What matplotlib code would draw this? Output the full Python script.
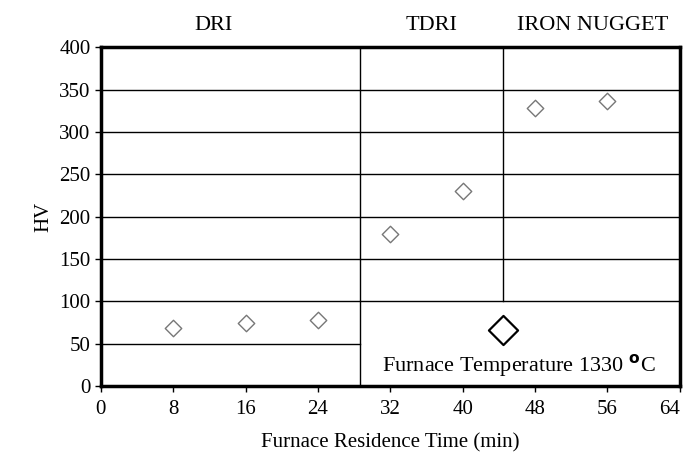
import matplotlib
matplotlib.use("Agg")
from matplotlib import pyplot as plt

# residence time (min) and hardness HV
time_min = [8, 16, 24, 32, 40, 48, 56]
hv = [68, 75, 78, 179, 230, 328, 336]
x_ticks = [0, 8, 16, 24, 32, 40, 48, 56, 64]
y_ticks = [0, 50, 100, 150, 200, 250, 300, 350, 400]
regions = ["DRI", "TDRI", "IRON NUGGET"]
region_x = [12.4, 36.6, 54.4]

plt.rcParams['font.family'] = ['Liberation Serif', 'DejaVu Serif']

fig = plt.figure(figsize=(6.86, 4.58), dpi=100)
ax = fig.add_axes([0.147, 0.157, 0.844, 0.740])

ax.set_xlim(0, 64)
ax.set_ylim(0, 400)

# horizontal grid lines
for y in [100, 150, 200, 250, 300, 350]:
    ax.plot([0, 64], [y, y], color="black", lw=1.0, zorder=1)
ax.plot([0, 28.6], [50, 50], color="black", lw=1.0, zorder=1)
# region dividers
ax.plot([28.6, 28.6], [0, 400], color="black", lw=1.0, zorder=1)
ax.plot([44.5, 44.5], [100, 400], color="black", lw=1.0, zorder=1)

ax.scatter(time_min, hv, marker="D", s=70, facecolors="white",
           edgecolors="#777777", linewidths=1.0, zorder=3)

# legend-like annotation
ax.scatter([44.5], [66], marker="D", s=220, facecolors="white",
           edgecolors="black", linewidths=1.6, zorder=3)
ax.text(46.2, 24, "Furnace Temperature 1330 $^{\\mathbf{o}}$C", ha="center", va="center",
        fontsize=16)

for name, xr in zip(regions, region_x):
    ax.text(xr, 425, name, ha="center", va="center", fontsize=16, clip_on=False)

ax.set_xticks(x_ticks)
ax.set_yticks(y_ticks)
ax.tick_params(axis="both", labelsize=15, direction="out", length=4, width=1)
ax.tick_params(axis="x", pad=6)
ax.get_xticklabels()[-1].set_horizontalalignment("right")
ax.get_xticklabels()[-1].set_x(64.3)
for s in ax.spines.values():
    s.set_linewidth(2.5)

ax.set_xlabel("Furnace Residence Time (min)", fontsize=15, labelpad=10)
ax.set_ylabel("HV", fontsize=15, labelpad=4)

fig.savefig("out.png", dpi=100)
